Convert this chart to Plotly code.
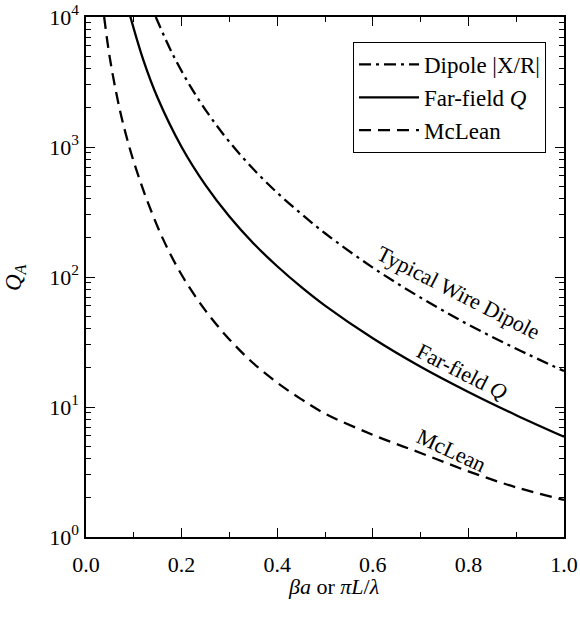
import plotly.graph_objects as go

# Data (x = beta*a, Q values on the log axis)
mclean_x = [0.038, 0.050, 0.070, 0.090, 0.110, 0.130, 0.160, 0.200, 0.250, 0.300, 0.350, 0.400, 0.450, 0.500, 0.600, 0.700, 0.800, 0.900, 1.000]
mclean_q = [10000, 4810, 1990, 1020, 593, 370, 200, 104, 55.1, 33.1, 21.7, 15.4, 11.5, 8.9, 6.11, 4.43, 3.2, 2.41, 1.93]

far_x = [0.092, 0.120, 0.150, 0.200, 0.250, 0.300, 0.350, 0.400, 0.450, 0.500, 0.600, 0.700, 0.800, 0.900, 1.000]
far_q = [10300, 4660, 2380, 1000, 509, 292, 182, 121, 84, 60.3, 33.8, 20.4, 13.05, 8.65, 5.9]

dip_x = [0.146, 0.180, 0.220, 0.260, 0.300, 0.350, 0.400, 0.450, 0.500, 0.600, 0.700, 0.800, 0.900, 1.000]
dip_q = [10000, 5290, 2860, 1710, 1095, 677, 445, 307, 217, 118, 69.4, 43, 28.1, 18.9]

y_tick_vals = [1, 10, 100, 1000, 10000]
y_tick_text = ["10<sup>0</sup>", "10<sup>1</sup>", "10<sup>2</sup>", "10<sup>3</sup>", "10<sup>4</sup>"]
y_minor_vals = [m * d for d in [1, 10, 100, 1000] for m in range(2, 10)]
x_tick_vals = [0, 0.2, 0.4, 0.6, 0.8, 1.0]
x_tick_text = ["0.0", "0.2", "0.4", "0.6", "0.8", "1.0"]
x_minor_vals = [0.1, 0.3, 0.5, 0.7, 0.9]

FONT = "Liberation Serif, Times New Roman, serif"

fig = go.Figure()
fig.add_trace(go.Scatter(x=dip_x, y=dip_q, mode="lines", name="Dipole |X/R|",
                         line=dict(color="black", width=2.3, dash="12px,5px,3px,5px", shape="spline")))
fig.add_trace(go.Scatter(x=far_x, y=far_q, mode="lines", name="Far-field <i>Q</i>",
                         line=dict(color="black", width=2.3, shape="spline")))
fig.add_trace(go.Scatter(x=mclean_x, y=mclean_q, mode="lines", name="McLean",
                         line=dict(color="black", width=2.3, dash="12px,7px", shape="spline")))

def label(text, x, y, angle, size=22):
    return dict(text=text, xref="paper", yref="paper", x=x, y=y,
                xanchor="center", yanchor="middle",
                showarrow=False, textangle=angle, font=dict(family=FONT, size=size, color="black"))

fig.update_layout(
    width=580, height=619,
    margin=dict(l=86, r=16, t=17, b=82),
    paper_bgcolor="white", plot_bgcolor="white",
    font=dict(family=FONT, color="black", size=22),
    showlegend=True,
    legend=dict(x=0.5586, y=0.952, xanchor="left", yanchor="top",
                bordercolor="black", borderwidth=1, bgcolor="white",
                itemwidth=60,
                font=dict(family=FONT, size=23, color="black")),
    xaxis=dict(range=[0, 1], showgrid=False, zeroline=False, automargin=False,
               showline=True, linecolor="black", linewidth=1.5, mirror="allticks",
               ticks="inside", ticklen=9, tickwidth=1.3, tickcolor="black",
               tickvals=x_tick_vals, ticktext=x_tick_text,
               ticklabelstandoff=7,
               tickfont=dict(family=FONT, size=22),
               minor=dict(ticks="inside", ticklen=5, tickwidth=1.2, tickcolor="black",
                          tickvals=x_minor_vals)),
    yaxis=dict(type="log", range=[0, 4], showgrid=False, zeroline=False, automargin=False,
               showline=True, linecolor="black", linewidth=1.5, mirror="allticks",
               ticks="inside", ticklen=9, tickwidth=1.3, tickcolor="black",
               tickvals=y_tick_vals, ticktext=y_tick_text,
               ticklabelstandoff=1,
               tickfont=dict(family=FONT, size=22),
               minor=dict(ticks="inside", ticklen=5, tickwidth=1.2, tickcolor="black",
                          tickvals=y_minor_vals)),
    annotations=[
        label("Typical Wire Dipole", 0.779, 0.4706, 27),
        label("Far-field <i>Q</i>", 0.786, 0.318, 27),
        label("McLean", 0.765, 0.167, 25),
        label("<i>Q<sub>A</sub></i>", -0.1485, 0.498, -90, 23),
        label("<i>βa</i> or <i>πL</i>/<i>λ</i>", 0.517, -0.096, 0, 22),
    ],
)

fig.write_html("out.html")
